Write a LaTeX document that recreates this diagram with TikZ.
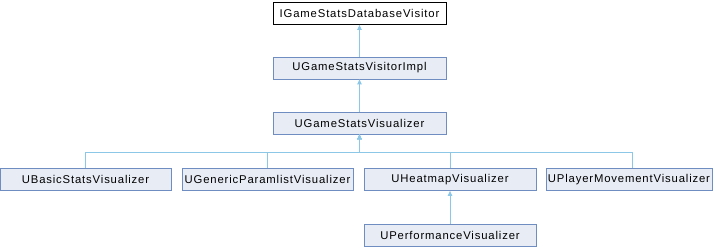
\documentclass[tikz,border=0pt]{standalone}
\usepackage{fontspec}
\setmainfont{Liberation Sans}
\newfontfamily\dxfont[LetterSpace=7.5]{Liberation Sans}
\usetikzlibrary{arrows.meta, positioning}
\definecolor{edgeblue}{HTML}{8CC7E8}
\definecolor{boxfill}{HTML}{E8ECF5}
\definecolor{boxline}{HTML}{6F8DC0}
\tikzset{
  classnode/.style = {rectangle, align=center, inner sep=0pt,
    minimum height=22pt, font=\dxfont\fontsize{11.3}{13}\selectfont},
  cls_w/.style = {classnode, draw=black, fill=white, line width=0.8pt},% root interface, white box
  cls_b/.style = {classnode, draw=boxline, fill=boxfill, line width=0.8pt},% derived class, blue box
  inherit/.style = {draw=edgeblue, line width=0.8pt,
    -{Triangle[length=5pt,width=4.5pt]}}
}

\begin{document}
\begin{tikzpicture}[x=1pt, y=-1pt]
\useasboundingbox (0,0) rectangle (718,248);
% chain at the top
\node (dbv) [cls_w, minimum width=173pt] at (359.5,13.5) {IGameStatsDatabaseVisitor};
\node (vimpl) [cls_b, minimum width=173pt] at (359.5,68) {UGameStatsVisitorImpl};
\node (vis) [cls_b, minimum width=173pt] at (359.5,123) {UGameStatsVisualizer};
% row of visualizers
\node (basic) [cls_b, minimum width=171pt] at (85.5,179.5) {UBasicStatsVisualizer};
\node (generic) [cls_b, minimum width=171pt] at (267.5,179.5) {UGenericParamlistVisualizer};
\node (heat) [cls_b, minimum width=172pt] at (450,179.5) {UHeatmapVisualizer};
\node (player) [cls_b, minimum width=166pt] at (629,179.5) {UPlayerMovementVisualizer};
\node (perf) [cls_b, minimum width=172pt] at (450,235.5) {UPerformanceVisualizer};

\coordinate (bus) at ([yshift=-18pt]vis.south);
\draw [inherit] (vimpl) -- (dbv);
\draw [inherit] (vis) -- (vimpl);
\draw [inherit] (basic.north) |- (bus) -- (vis.south);
\draw [inherit] (generic.north) |- (bus) -- (vis.south);
\draw [inherit] (heat.north) |- (bus) -- (vis.south);
\draw [inherit] ([xshift=3.5pt]player.north) |- (bus) -- (vis.south);
\draw [inherit] (perf) -- (heat);
\end{tikzpicture}
\end{document}
